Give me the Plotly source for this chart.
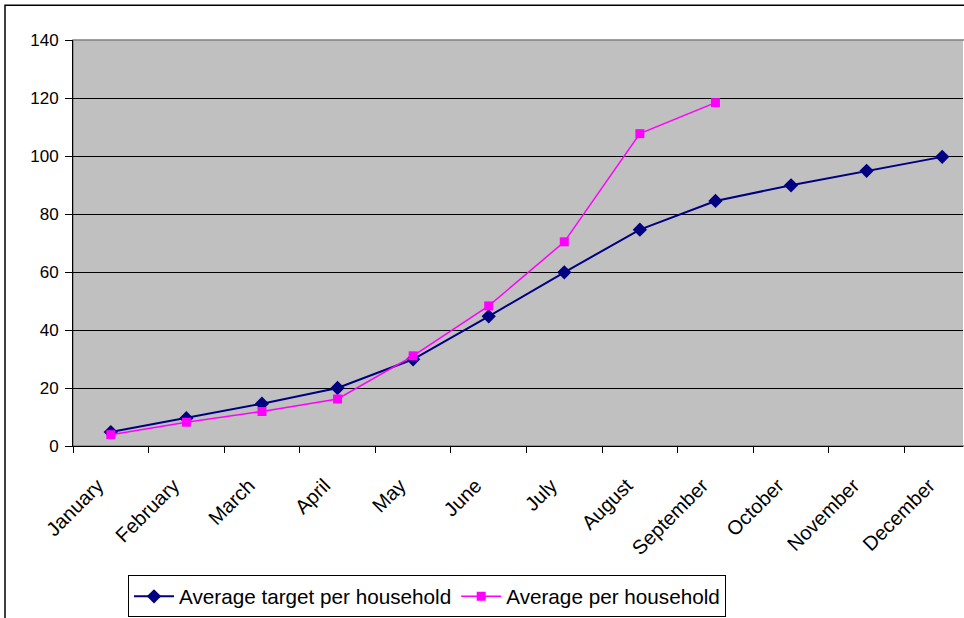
import plotly.graph_objects as go

months = ["January", "February", "March", "April", "May", "June", "July",
          "August", "September", "October", "November", "December"]
target = [4.8, 9.6, 14.6, 20.0, 29.9, 44.7, 59.9, 74.6, 84.5, 89.9, 94.9, 99.7]
actual_months = months[:9]
actual = [3.9, 8.2, 11.9, 16.2, 31.1, 48.3, 70.4, 107.7, 118.4]
y_ticks = [0, 20, 40, 60, 80, 100, 120, 140]

W, H = 964, 618
L, R, T, B = 73, 1, 40, 170
pw, ph = W - L - R, H - T - B
# the original plot area runs past the right edge of the picture (to ~980 px)
x_end = -0.5 + 12 * pw / (980 - L)

def px(x):
    return (x - L) / pw

def py(y):
    return (H - B - y) / ph

fig = go.Figure()
fig.add_trace(go.Scatter(
    x=months, y=target, name="Average target per household",
    mode="lines+markers",
    line=dict(color="#000080", width=2),
    marker=dict(symbol="diamond", size=11, color="#000080"),
))
fig.add_trace(go.Scatter(
    x=actual_months, y=actual, name="Average per household",
    mode="lines+markers",
    line=dict(color="#FF00FF", width=1.5),
    marker=dict(symbol="square", size=9, color="#FF00FF"),
))

fig.update_layout(
    width=W, height=H,
    margin=dict(l=L, r=R, t=T, b=B, pad=0),
    paper_bgcolor="white",
    plot_bgcolor="#C0C0C0",
    font=dict(family="Liberation Sans, Arial, sans-serif", size=17, color="black"),
    showlegend=True,
    legend=dict(
        orientation="h",
        x=px(128), xanchor="left",
        y=py(578), yanchor="top",
        bordercolor="black", borderwidth=1,
        bgcolor="white",
        font=dict(size=20.7),
        itemwidth=40,
        tracegroupgap=0,
    ),
    xaxis=dict(
        type="category",
        range=[-0.5, x_end],
        tickson="boundaries",
        ticks="outside", ticklen=6, tickcolor="black", tickwidth=1,
        showline=True, linecolor="black", linewidth=1,
        showgrid=False,
        tickangle=-45,
        ticklabelstandoff=19,
        ticklabelshift=-13,
        tickfont=dict(size=20),
    ),
    yaxis=dict(
        range=[0, 140],
        tickvals=y_ticks,
        ticks="outside", ticklen=7, tickcolor="black", tickwidth=1,
        showline=True, linecolor="black", linewidth=1,
        showgrid=True, gridcolor="black", gridwidth=1,
        zeroline=False,
        ticklabelstandoff=3,
        tickfont=dict(size=17),
    ),
    shapes=[
        dict(type="rect", xref="paper", yref="paper",
             x0=0, x1=px(990), y0=0, y1=1,
             line=dict(color="#808080", width=1.5), layer="below"),
        dict(type="rect", xref="paper", yref="paper",
             x0=px(5), x1=px(990), y0=py(650), y1=py(5),
             line=dict(color="black", width=1.5), layer="below"),
    ],
)

fig.write_html("out.html", config={"displayModeBar": False},
               post_script="document.body.style.margin='0';")
